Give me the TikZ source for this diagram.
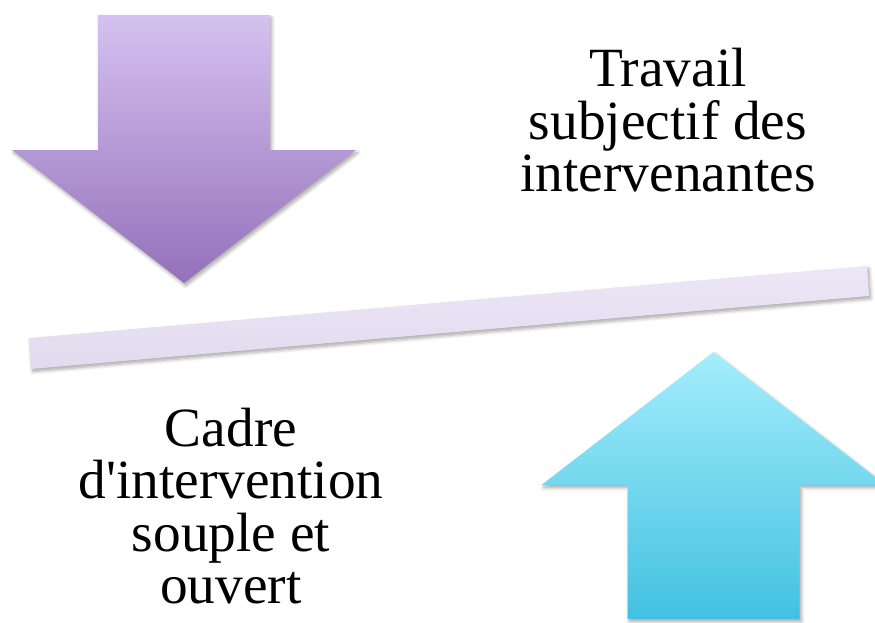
\documentclass[tikz,border=0pt]{standalone}
\usepackage{fontspec}
\setmainfont{Liberation Serif}[Ligatures=TeXOff]
\usetikzlibrary{shadows.blur}

\definecolor{lilacTop}{RGB}{213,193,240}
\definecolor{lilacBot}{RGB}{148,113,186}
\definecolor{skyTop}{RGB}{165,237,252}
\definecolor{skyBot}{RGB}{66,193,224}
\definecolor{barTop}{RGB}{236,230,246}
\definecolor{barBot}{RGB}{226,219,238}

\begin{document}
\begin{tikzpicture}[x=0.02cm, y=-0.02cm,
  soft/.style={blur shadow={shadow xshift=1pt, shadow yshift=-1.5pt,
      shadow blur radius=2pt, shadow opacity=35, shadow blur steps=6}},
  label text/.style={align=center, inner sep=0pt,
      font=\fontsize{31.5pt}{29.75pt}\selectfont}]
  % arrow sizes (pixels of the page)
  \def\hw{172} % half width of the head
  \def\sw{86}  % half width of the shaft
  \def\hh{133} % height of the head

  \useasboundingbox (0,0) rectangle (875,622);

  % Arrow pointing down (left)
  \def\cx{184}
  \shade[soft, top color=lilacTop, bottom color=lilacBot]
    (\cx-\sw,15) -- (\cx+\sw,15) -- (\cx+\sw,150) -- (\cx+\hw,150)
    -- (\cx,150+\hh) -- (\cx-\hw,150) -- (\cx-\sw,150) -- cycle;

  % Arrow pointing up (right), cut by the page edge
  \def\cx{713.5}
  \shade[soft, top color=skyTop, bottom color=skyBot]
    (\cx-\sw,619) -- (\cx+\sw,619) -- (\cx+\sw,485) -- (\cx+\hw,485)
    -- (\cx,485-\hh) -- (\cx-\hw,485) -- (\cx-\sw,485) -- cycle;

  % Tilted beam
  \shade[soft, top color=barTop, bottom color=barBot]
    (29,338) -- (867,266) -- (869,296) -- (31,369) -- cycle;

  % Labels
  \node[label text] (travail) at (668,120.3)
    {Travail\\subjectif des\\intervenantes};
  \node[label text] (cadre) at (231,506)
    {Cadre\\d'intervention\\souple et\\ouvert};

\end{tikzpicture}
\end{document}
